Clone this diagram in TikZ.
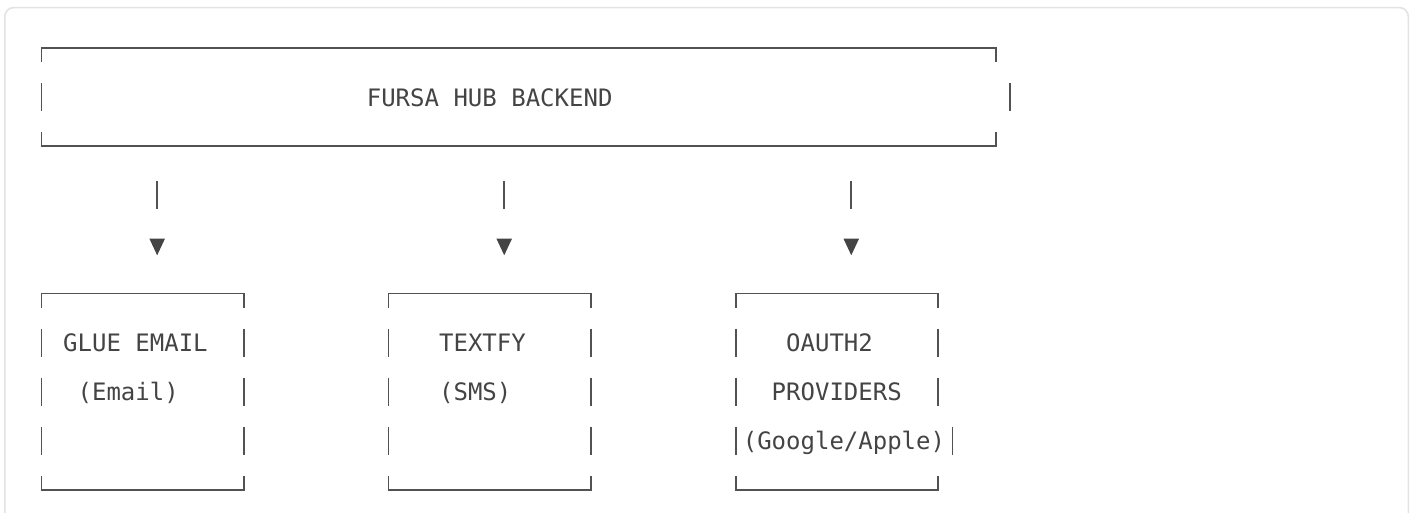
\documentclass[tikz,border=0pt]{standalone}
\usepackage{fontspec}
\newfontfamily\mono{DejaVu Sans Mono}
\definecolor{linec}{HTML}{525252}
\definecolor{txtc}{HTML}{444444}
\definecolor{framec}{HTML}{E3E3E3}
\begin{document}
\begin{tikzpicture}[x=1pt,y=-1pt,
  ln/.style={draw=linec, line width=1.9pt},
  vbars/.style={ln, dash pattern=on 28pt off 21.1pt, dash phase=14pt},
  boxarea/.style={draw=none, rectangle, inner sep=0pt, outer sep=0pt, anchor=north west},
  txt/.style={font=\mono\fontsize{24}{24}\selectfont, text=txtc, inner sep=0pt, outer sep=0pt, anchor=base west},
  tribox/.style={inner sep=0pt, outer sep=0pt, minimum width=15.5pt, minimum height=16.5pt},
  conn/.style={ln, shorten <=35.1pt, shorten >=29.7pt},
  tri/.style={fill=txtc},
]
\clip (0,0) rectangle (1414,513);
\fill[white] (0,0) rectangle (1414,513);
\draw[framec, line width=1.6pt, rounded corners=9pt] (4.8,7.6) rectangle (1408.3,540);

% box areas
\node[boxarea, minimum width=954.36pt, minimum height=98.2pt] (backend) at (41.5,48) {};
\node[boxarea, minimum width=202.44pt, minimum height=196.4pt] (glue) at (41.5,293.5) {};
\node[boxarea, minimum width=202.44pt, minimum height=196.4pt] (textfy) at (388.54,293.5) {};
\node[boxarea, minimum width=202.44pt, minimum height=196.4pt] (oauth) at (735.58,293.5) {};

% backend outline
\draw[ln] ([yshift=-14pt]backend.north west) -- (backend.north west) -- (backend.north east) -- ([yshift=-14pt]backend.north east);
\draw[ln] ([yshift=14pt]backend.south west) -- (backend.south west) -- (backend.south east) -- ([yshift=14pt]backend.south east);
\draw[vbars] (backend.north west) -- (backend.south west);
\draw[ln] (1010.32,83.1) -- (1010.32,111.1);

% child outlines
\foreach \b in {glue,textfy,oauth}{
  \draw[ln] ([yshift=-14pt]\b.north west) -- (\b.north west) -- (\b.north east) -- ([yshift=-14pt]\b.north east);
  \draw[ln] ([yshift=14pt]\b.south west) -- (\b.south west) -- (\b.south east) -- ([yshift=14pt]\b.south east);
  \draw[vbars] (\b.north west) -- (\b.south west);
}
\draw[vbars] (glue.north east) -- (glue.south east);
\draw[vbars] (textfy.north east) -- (textfy.south east);
\draw[ln] (938.02,328.6) -- (938.02,356.6);
\draw[ln] (938.02,377.7) -- (938.02,405.7);
\draw[ln] (952.48,426.8) -- (952.48,454.8);

% texts
\node[txt] (tback) at (366.85,106.1) {FURSA HUB BACKEND};
\node[txt] (tglue) at (63.19,351.6) {GLUE EMAIL};
\node[txt] (tglue2) at (77.65,400.7) {(Email)};
\node[txt] (ttext) at (439.15,351.6) {TEXTFY};
\node[txt] (ttext2) at (439.15,400.7) {(SMS)};
\node[txt] (toa) at (786.19,351.6) {OAUTH2};
\node[txt] (toa2) at (771.73,400.7) {PROVIDERS};
\node[txt] (toa3) at (742.81,449.8) {(Google/Apple)};

% arrow heads
\node[tribox] (a1) at (157.18,247) {};
\node[tribox] (a2) at (504.22,247) {};
\node[tribox] (a3) at (851.26,247) {};
\foreach \a in {a1,a2,a3}{
  \fill[tri] (\a.north west) -- (\a.north east) -- (\a.south) -- cycle;
  \draw[conn] (backend.south -| \a.north) -- (\a.north);
}
\end{tikzpicture}
\end{document}
